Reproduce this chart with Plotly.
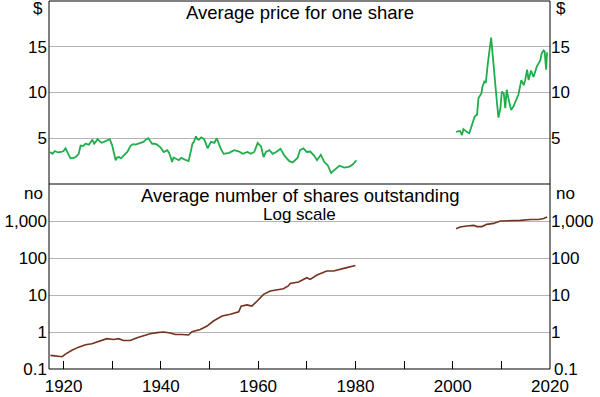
import plotly.graph_objects as go

# ---------------- data ----------------
price_years_1 = [1917.2, 1917.7, 1918.2, 1918.8, 1919.5, 1920.0, 1920.4, 1920.9, 1921.4, 1922.1,
                 1922.6, 1923.1, 1923.5, 1924.0, 1924.5, 1925.2, 1925.9, 1926.3, 1926.6, 1927.0,
                 1927.3, 1927.8, 1928.3, 1929.0, 1929.5, 1930.0, 1930.4, 1930.7, 1931.0, 1931.4,
                 1931.8, 1932.4, 1932.8, 1933.1, 1933.8, 1934.3, 1934.8, 1935.3, 1935.8, 1936.4,
                 1936.9, 1937.4, 1937.8, 1938.2, 1938.7, 1939.2, 1939.9, 1940.6, 1941.3, 1941.7,
                 1942.0, 1942.3, 1942.6, 1943.0, 1943.7, 1944.2, 1944.7, 1945.2, 1945.7, 1946.1,
                 1946.5, 1946.8, 1947.2, 1947.5, 1947.8, 1948.3, 1948.9, 1949.2, 1949.6, 1950.3,
                 1951.0, 1951.5, 1952.2, 1952.9, 1954.0, 1955.1, 1956.1, 1956.8, 1957.8, 1958.5,
                 1959.2, 1959.9, 1960.6, 1961.1, 1961.6, 1962.3, 1963.0, 1963.7, 1964.6, 1965.4,
                 1966.4, 1967.1, 1968.1, 1968.6, 1969.3, 1970.0, 1970.7, 1971.5, 1972.1, 1972.9,
                 1973.6, 1974.3, 1975.0, 1975.7, 1976.7, 1977.7, 1978.8, 1979.5, 1980.2]
price_vals_1 = [3.5, 3.3, 3.6, 3.45, 3.5, 3.6, 3.9, 3.3, 2.8, 2.85,
                3.0, 3.3, 4.2, 4.15, 4.4, 4.3, 4.85, 4.4, 4.6, 4.9,
                4.75, 4.5, 4.6, 4.8, 4.9, 4.2, 3.3, 2.6, 2.9, 2.95,
                2.8, 3.1, 3.3, 3.5, 4.2, 4.35, 4.3, 4.4, 4.5, 4.6,
                4.85, 5.0, 4.7, 4.4, 4.4, 4.3, 4.0, 3.5, 3.7, 3.4,
                2.95, 2.4, 2.9, 2.8, 2.6, 2.85, 2.7, 2.6, 2.5, 3.5,
                4.4, 4.6, 5.2, 4.9, 4.85, 5.1, 4.9, 4.5, 3.9, 4.6,
                4.5, 5.0, 4.0, 3.3, 3.4, 3.7, 3.55, 3.3, 3.5, 3.3,
                3.5, 4.5, 4.1, 2.95, 3.5, 3.7, 3.3, 3.5, 3.85, 3.1,
                2.5, 2.35, 2.85, 3.7, 3.9, 3.5, 3.55, 3.1, 2.6, 3.2,
                2.4, 2.05, 1.2, 1.55, 2.0, 1.8, 1.9, 2.15, 2.6]

price_years_2 = [2000.7, 2001.5, 2001.9, 2002.2, 2002.9, 2003.4, 2003.9, 2004.5, 2005.0, 2005.3,
                 2005.9, 2006.1, 2006.5, 2006.8, 2007.2, 2007.9, 2008.2, 2008.6, 2009.1, 2009.4,
                 2009.8, 2010.1, 2010.5, 2010.8, 2011.1, 2011.5, 2012.0, 2012.5, 2013.0, 2013.5,
                 2014.1, 2014.6, 2014.9, 2015.3, 2015.6, 2016.1, 2016.6, 2017.3, 2018.0, 2018.3,
                 2018.7, 2018.9, 2019.2, 2019.4]
price_vals_2 = [5.7, 5.8, 5.35, 6.0, 5.7, 5.55, 6.35, 7.35, 7.6, 9.4,
                9.9, 10.6, 11.2, 11.05, 13.1, 16.0, 14.2, 11.35, 8.85, 7.25,
                8.3, 10.1, 9.9, 8.3, 10.3, 9.2, 8.1, 8.5, 9.2, 9.75,
                11.35, 10.8, 11.35, 12.5, 11.35, 12.4, 11.7, 12.85, 13.5, 14.3,
                14.6, 14.5, 12.5, 14.4]

shares_years_1 = [1917.3, 1919.0, 1919.7, 1920.3, 1921.7, 1923.1, 1924.5, 1925.8, 1927.5, 1928.9,
                  1930.3, 1931.3, 1932.3, 1933.7, 1935.1, 1936.4, 1937.8, 1939.2, 1940.6, 1941.9,
                  1943.0, 1944.3, 1945.7, 1946.4, 1948.1, 1949.5, 1950.8, 1952.6, 1954.3, 1956.0,
                  1956.5, 1957.7, 1958.7, 1959.8, 1961.1, 1962.5, 1963.9, 1965.2, 1966.2, 1966.6,
                  1968.3, 1970.0, 1970.7, 1972.1, 1974.1, 1975.5, 1977.6, 1978.9, 1980.0]
shares_vals_1 = [0.233, 0.224, 0.215, 0.248, 0.32, 0.39, 0.45, 0.48, 0.57, 0.66,
                 0.63, 0.66, 0.59, 0.59, 0.70, 0.78, 0.90, 0.96, 1.0, 0.94,
                 0.86, 0.86, 0.83, 1.02, 1.17, 1.45, 1.98, 2.7, 3.0, 3.5,
                 5.0, 5.4, 5.0, 6.9, 10.4, 12.8, 14.1, 14.8, 17.5, 20.6,
                 22.4, 29.4, 26.4, 34.8, 44.6, 44.6, 52.5, 58.2, 63]

shares_years_2 = [2000.7, 2001.5, 2002.9, 2004.3, 2005.0, 2006.0, 2007.0, 2008.4, 2009.8, 2011.8,
                  2013.9, 2016.0, 2017.6, 2018.7, 2019.4]
shares_vals_2 = [618, 690, 733, 760, 706, 706, 810, 862, 1000, 1000,
                 1040, 1100, 1100, 1170, 1290]

price_ticks = [5, 10, 15]
price_ticktext = ["5", "10", "15"]
shares_ticks = [0.1, 1, 10, 100, 1000]
shares_ticktext = ["0.1", "1", "10", "100", "1,000"]
year_ticks = [1920, 1930, 1940, 1950, 1960, 1970, 1980, 1990, 2000, 2010, 2020]
year_ticktext = ["1920", "", "1940", "", "1960", "", "1980", "", "2000", "", "2020"]

title_top = "Average price for one share"
title_bottom = "Average number of shares outstanding"
subtitle_bottom = "Log scale"

# ---------------- styles ----------------
GREEN = "#1fae4b"
BROWN = "#73331f"
GRID = "#b4b4b4"
FONT = "Liberation Sans, Arial, sans-serif"
SPLIT = 186 / 370

fig = go.Figure()

for xs, ys in [(price_years_1, price_vals_1), (price_years_2, price_vals_2)]:
    fig.add_trace(go.Scatter(x=xs, y=ys, mode="lines", xaxis="x2", yaxis="y",
                             line=dict(color=GREEN, width=1.8), showlegend=False,
                             hoverinfo="skip"))
    fig.add_trace(go.Scatter(x=xs, y=ys, mode="lines", xaxis="x2", yaxis="y3",
                             line=dict(color="rgba(0,0,0,0)", width=0), showlegend=False,
                             hoverinfo="skip"))
for xs, ys in [(shares_years_1, shares_vals_1), (shares_years_2, shares_vals_2)]:
    fig.add_trace(go.Scatter(x=xs, y=ys, mode="lines", xaxis="x", yaxis="y2",
                             line=dict(color=BROWN, width=1.6), showlegend=False,
                             hoverinfo="skip"))
    fig.add_trace(go.Scatter(x=xs, y=ys, mode="lines", xaxis="x", yaxis="y4",
                             line=dict(color="rgba(0,0,0,0)", width=0), showlegend=False,
                             hoverinfo="skip"))

tickfont = dict(family=FONT, size=17, color="black")

fig.update_layout(
    width=600, height=397,
    margin=dict(l=49, r=50, t=1, b=26),
    paper_bgcolor="white", plot_bgcolor="white",
    font=dict(family=FONT, color="black"),
    xaxis=dict(domain=[0, 1], anchor="y2", range=[1917, 2020],
               tickvals=year_ticks, ticktext=year_ticktext,
               ticks="inside", ticklen=8, tickcolor="black", tickwidth=1,
               ticklabelstandoff=5, ticklabeloverflow="allow",
               showgrid=False, zeroline=False, showline=False, tickfont=tickfont),
    xaxis2=dict(domain=[0, 1], anchor="y", range=[1917, 2020],
                showticklabels=False, ticks="", showgrid=False, zeroline=False,
                showline=False),
    yaxis=dict(domain=[SPLIT, 1], anchor="x2", range=[0, 20],
               tickvals=price_ticks, ticktext=price_ticktext,
               showgrid=True, gridcolor=GRID, gridwidth=1, zeroline=False,
               ticks="", showline=False, tickfont=tickfont, ticklabelstandoff=1,
               ticklabeloverflow="allow"),
    yaxis3=dict(overlaying="y", side="right", anchor="x2", range=[0, 20],
                tickvals=price_ticks, ticktext=price_ticktext,
                showgrid=False, zeroline=False, ticks="", showline=False,
                tickfont=tickfont, ticklabeloverflow="allow"),
    yaxis2=dict(domain=[0, SPLIT], anchor="x", type="log", range=[-1, 4],
                tickvals=shares_ticks, ticktext=shares_ticktext,
                showgrid=True, gridcolor=GRID, gridwidth=1, zeroline=False,
                ticks="", showline=False, tickfont=tickfont, ticklabelstandoff=1,
                ticklabeloverflow="allow"),
    # the right-hand corner label (0.1) is added below, pinned to the bottom of this axis
    yaxis4=dict(overlaying="y2", side="right", anchor="x", type="log", range=[-1, 4],
                tickvals=shares_ticks[1:], ticktext=shares_ticktext[1:],
                showgrid=False, zeroline=False, ticks="", showline=False,
                tickfont=tickfont, ticklabeloverflow="allow"),
    shapes=[
        dict(type="rect", xref="paper", yref="paper", x0=0, x1=1, y0=0, y1=1,
             line=dict(color="black", width=1), layer="above"),
        dict(type="line", xref="paper", yref="paper", x0=0, x1=1, y0=SPLIT, y1=SPLIT,
             line=dict(color="black", width=1), layer="above"),
    ],
)

ann = []
ann.append(dict(text=title_top, x=0.5, y=0.970, xref="paper", yref="paper",
                showarrow=False, xanchor="center", yanchor="middle",
                font=dict(family=FONT, size=18.5, color="black")))
ann.append(dict(text=title_bottom, x=0.5, y=0.471, xref="paper", yref="paper",
                showarrow=False, xanchor="center", yanchor="middle",
                font=dict(family=FONT, size=18.5, color="black")))
ann.append(dict(text=subtitle_bottom, x=0.5, y=0.4206, xref="paper", yref="paper",
                showarrow=False, xanchor="center", yanchor="middle",
                font=dict(family=FONT, size=17, color="black")))
for label, yy in [("$", 0.980), ("no", 0.476)]:
    ann.append(dict(text=label, x=0, xshift=-4, y=yy, xref="paper", yref="paper",
                    showarrow=False, xanchor="right", yanchor="middle",
                    font=dict(family=FONT, size=17, color="black")))
    ann.append(dict(text=label, x=1, xshift=4, y=yy, xref="paper", yref="paper",
                    showarrow=False, xanchor="left", yanchor="middle",
                    font=dict(family=FONT, size=17, color="black")))
# right-hand 0.1 label: bottom of the log axis (domain position 0 = range minimum 0.1)
ann.append(dict(text=shares_ticktext[0], x=1, xshift=2, xref="paper",
                y=0, yref="y4 domain", showarrow=False, xanchor="left", yanchor="middle",
                font=dict(family=FONT, size=17, color="black")))
fig.update_layout(annotations=ann)

fig.write_html("out.html", config={"displayModeBar": False},
               post_script="document.body.style.margin='0';")
